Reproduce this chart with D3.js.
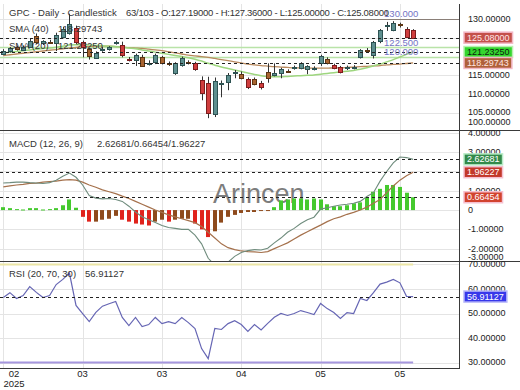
<!DOCTYPE html>
<html><head><meta charset="utf-8">
<script src="https://cdn.jsdelivr.net/npm/d3@7"></script>
<style>
html,body{margin:0;padding:0;background:#fff;}
svg{display:block;}
</style></head><body>
<svg id="c" width="520" height="390"></svg>
<script>
// ---------------- DATA ----------------
const opens  = [120.9,121.5,122.5,121.9,122.6,125.4,123.6,124.0,123.7,125.4,126.4,127.7,123.9,122.0,119.7,121.9,122.1,123.7,123.0,119.4,119.0,120.0,118.2,118.3,119.8,118.3,115.6,117.7,118.5,118.2,113.6,113.0,104.6,112.6,113.1,115.6,115.4,113.9,113.9,113.0,116.0,115.0,115.8,116.2,117.0,116.9,116.6,116.8,118.2,119.3,117.7,117.1,116.9,117.1,119.8,121.8,120.3,124.1,128.1,127.0,128.7,127.4,127.19];
const highs  = [122.0,122.6,122.9,123.0,124.8,126.2,124.4,124.5,126.4,128.0,131.5,128.3,124.3,122.4,121.4,122.6,122.8,124.3,124.0,119.9,120.8,120.5,119.0,120.8,120.2,118.7,118.5,120.0,119.0,118.6,114.7,114.6,114.4,113.6,115.6,116.4,116.0,114.4,114.4,113.5,118.2,118.2,117.0,116.6,117.6,118.5,117.7,117.4,120.5,119.8,118.1,117.5,117.6,117.7,122.0,122.3,124.2,127.4,129.3,129.5,129.1,127.9,127.36];
const lows   = [120.4,121.1,121.6,121.5,122.3,123.3,123.1,123.4,121.5,124.9,125.9,123.3,119.8,119.2,119.4,121.3,121.6,123.2,119.8,118.7,117.5,117.3,117.6,118.0,117.9,117.5,115.1,117.3,117.9,116.2,108.3,103.5,103.8,109.1,111.0,114.2,113.9,111.3,112.3,111.2,113.0,114.7,114.2,115.6,116.5,116.6,115.3,116.3,117.5,117.9,116.6,115.5,116.4,116.6,119.5,121.0,119.5,123.6,126.9,126.8,127.8,125.15,125.00];
const closes = [121.6,122.2,122.0,122.7,124.3,123.7,124.1,123.9,125.8,127.5,128.8,123.9,122.6,120.0,121.1,122.0,122.6,123.9,120.3,119.1,120.3,117.7,118.4,120.3,118.2,118.0,118.2,119.6,118.4,116.6,110.2,105.0,113.4,113.0,115.0,115.9,114.4,111.8,112.6,111.8,114.5,115.5,116.8,116.1,117.3,118.2,117.4,117.0,120.1,118.2,116.9,115.8,117.1,117.3,121.7,121.5,123.8,127.0,128.4,128.9,128.5,125.25,125.08];
const sma20  = [121.0,121.2,121.4,121.6,121.8,122.0,122.2,122.3,122.5,122.8,123.1,123.2,123.2,123.1,123.0,122.9,122.8,122.7,122.5,122.3,122.1,121.8,121.5,121.2,120.9,120.6,120.3,120.0,119.7,119.3,118.8,118.2,117.7,117.2,116.8,116.4,116.0,115.6,115.2,114.9,114.7,114.6,114.6,114.7,114.8,114.9,115.0,115.1,115.3,115.5,115.7,115.9,116.1,116.3,116.6,117.0,117.5,118.0,118.6,119.2,119.9,120.6,121.2325];
const sma40  = [120.3,120.5,120.7,120.9,121.1,121.3,121.5,121.7,121.9,122.1,122.3,122.5,122.6,122.7,122.8,122.8,122.8,122.7,122.6,122.4,122.3,122.2,122.0,121.8,121.6,121.3,121.0,120.7,120.4,120.2,120.0,119.8,119.5,119.2,118.9,118.6,118.3,118.0,117.8,117.6,117.45,117.3,117.2,117.1,117.0,117.0,116.9,116.9,116.9,116.9,117.0,117.0,117.1,117.2,117.3,117.4,117.5,117.6,117.8,117.9,118.0,118.15,118.29743];
const macdLine   = [1.40,1.42,1.45,1.45,1.42,1.40,1.38,1.42,1.55,1.75,1.92,1.70,1.30,0.75,0.62,0.58,0.60,0.55,0.45,0.20,-0.10,-0.35,-0.50,-0.65,-0.80,-0.90,-0.95,-1.00,-1.00,-1.30,-1.75,-2.50,-2.85,-3.00,-2.70,-2.40,-2.20,-2.10,-2.05,-2.07,-1.98,-1.70,-1.45,-1.15,-0.95,-0.70,-0.50,-0.37,0.05,0.12,0.20,0.26,0.30,0.35,0.45,0.70,0.90,1.50,2.00,2.45,2.75,2.72,2.62681];
const signalLine = [1.20,1.25,1.30,1.33,1.38,1.40,1.45,1.48,1.50,1.55,1.58,1.55,1.45,1.30,1.18,1.05,0.95,0.85,0.72,0.60,0.45,0.30,0.15,0.00,-0.12,-0.25,-0.35,-0.45,-0.55,-0.65,-0.85,-1.15,-1.45,-1.75,-1.95,-2.05,-2.12,-2.15,-2.17,-2.20,-2.15,-2.00,-1.85,-1.70,-1.50,-1.30,-1.12,-0.95,-0.78,-0.60,-0.45,-0.35,-0.22,-0.12,0.00,0.15,0.35,0.55,0.90,1.25,1.55,1.78,1.96227];
const histogram  = [0.15,0.10,0.05,0.03,0.10,0.10,0.03,0.05,0.10,0.25,0.55,0.12,-0.35,-0.60,-0.60,-0.50,-0.45,-0.30,-0.50,-0.60,-0.70,-0.75,-0.80,-0.60,-0.50,-0.60,-0.50,-0.45,-0.45,-0.70,-1.00,-1.40,-1.10,-0.65,-0.35,-0.25,-0.15,-0.10,-0.10,-0.05,-0.05,0.15,0.50,0.55,0.60,0.60,0.55,0.60,0.55,0.30,0.20,0.20,0.25,0.35,0.40,0.65,0.95,1.10,1.30,1.30,1.20,0.90,0.66454];
const rsi        = [56.5,58.5,56.1,57.3,61.0,58.6,56.5,57.3,61.8,63.9,66.5,53.3,50.0,46.7,50.5,53.0,54.0,54.9,48.4,45.1,48.4,44.7,45.5,48.4,45.9,46.7,45.9,48.4,46.3,43.9,35.7,31.6,43.9,43.5,45.9,47.1,45.5,42.7,45.5,43.3,46.0,48.5,50.0,49.2,50.0,51.2,50.4,49.6,54.1,52.0,50.4,48.0,50.4,50.0,56.1,55.3,58.5,62.0,62.8,63.9,62.5,57.0,56.91127];

const priceTicks = [100,105,110,115,120,125,130];
const macdTicks  = [-3,-2,-1,0,1,2,3,4];
const rsiTicks   = [30,40,50,60,70];
const xTickIndex = [0,12,24,36,48,60];
const xTickLabels = ["02","03","03","04","05","05"];
const yearLabel = "2025";
const levelValues = [130,122.5,120];
const levelLabels = ["130.000","122.500","120.000"];
const titleMain = "GPC - Daily - Candlestick";
const titleOHLC = "63/103 - O:127.19000 - H:127.36000 - L:125.00000 - C:125.08000";
const sma40Label = "SMA (40)", sma20Label = "SMA (20)";
const macdLabel = "MACD (12, 26, 9)", rsiLabel = "RSI (20, 70, 30)";
const watermark = "Arincen";

// ---------------- LAYOUT ----------------
const FONT = '"Liberation Sans", Arial, Helvetica, sans-serif';
const RIGHT = 460;
const svg = d3.select("#c").attr("font-family", FONT);
const N = closes.length;
const x = d3.scaleBand().domain(d3.range(70)).range([0, 70*6.61]).paddingInner(0.35).paddingOuter(0.175);
const xc = i => x(i) + x.bandwidth()/2;
const P = {top:4, bottom:129}, M = {top:130, bottom:261}, R = {top:261, bottom:368};
const yP = d3.scaleLinear().domain([100.6,134.1]).range([P.bottom,P.top]);
const yM = d3.scaleLinear().domain([-2.64,4.15]).range([M.bottom,M.top]);
const yR = d3.scaleLinear().domain([27.8,71.4]).range([R.bottom,R.top]);
const crisp = v => Math.round(v) + 0.5;

const defs = svg.append("defs");
[["clipP",P],["clipM",M],["clipR",R]].forEach(([id,p]) =>
  defs.append("clipPath").attr("id",id).append("rect")
    .attr("x",0).attr("y",p.top).attr("width",RIGHT).attr("height",p.bottom-p.top));

// grid
const grid = svg.append("g").attr("stroke","#e4e4e4").attr("stroke-width",1);
[[yP,priceTicks,P],[yM,macdTicks,M],[yR,rsiTicks,R]].forEach(([s,t,p]) => {
  t.forEach(v => { const y = s(v); if (y > p.top+1 && y < p.bottom-1)
    grid.append("line").attr("x1",0).attr("x2",RIGHT).attr("y1",crisp(y)).attr("y2",crisp(y)); });
});
xTickIndex.forEach(i => grid.append("line").attr("x1",crisp(xc(i))).attr("x2",crisp(xc(i))).attr("y1",P.top).attr("y2",R.bottom));

// watermark
svg.append("text").attr("x",213).attr("y",203).attr("font-size",27).attr("fill","#7d7d7d").text(watermark);

// ---------------- PRICE PANEL ----------------
const gp = svg.append("g").attr("clip-path","url(#clipP)");
levelValues.forEach((v,k) => {
  gp.append("line").attr("x1", k===0 ? xc(38) : 0).attr("x2",RIGHT)
    .attr("y1",crisp(yP(v))).attr("y2",crisp(yP(v)))
    .attr("stroke", k===0 ? "#8a7f78" : "#b9e3a8").attr("stroke-width", k===0 ? 1 : 1.5);
});
const lineP = d3.line().x((d,i)=>xc(i)).y(d=>yP(d)).curve(d3.curveMonotoneX);
gp.append("path").datum(sma40).attr("d",lineP).attr("fill","none").attr("stroke","#b98a5e").attr("stroke-width",1.3);
gp.append("path").datum(sma20).attr("d",lineP).attr("fill","none").attr("stroke","#9ed67f").attr("stroke-width",1.5);

const tone = i => closes[i] >= opens[i] ? "up" : (i > 0 && closes[i] < lows[i-1] ? "red" : "brown");
const fills = {up:"#5e8f8f", red:"#cf3d3d", brown:"#a86430"};
const strokes = {up:"#2d5252", red:"#7c1c1c", brown:"#5c3412"};
const cg = gp.append("g");
d3.range(N).forEach(i => {
  const cx = crisp(xc(i));
  cg.append("line").attr("x1",cx).attr("x2",cx).attr("y1",yP(highs[i])).attr("y2",yP(lows[i])).attr("stroke","#333").attr("stroke-width",1);
  const y1 = yP(Math.max(opens[i],closes[i])), y2 = yP(Math.min(opens[i],closes[i]));
  cg.append("rect").attr("x",cx-2).attr("width",4).attr("y",Math.round(y1)+0.5).attr("height",Math.max(1,Math.round(y2-y1)))
    .attr("fill",fills[tone(i)]).attr("stroke",strokes[tone(i)]).attr("stroke-width",1);
});

const dashed = (g, y) => g.append("line").attr("x1",0).attr("x2",RIGHT).attr("y1",crisp(y)).attr("y2",crisp(y))
  .attr("stroke","#222").attr("stroke-width",1).attr("stroke-dasharray","3,3");
dashed(svg, yP(closes[N-1]));
dashed(svg, yP(sma20[N-1]));
dashed(svg, yP(sma40[N-1]));

levelValues.forEach((v,k) => {
  svg.append("text").attr("x", xc(57)+4).attr("y", yP(v) - (k===0 ? 2.5 : 1.5)).attr("font-size",9.5).attr("fill","#7474c4").text(levelLabels[k]);
});

svg.append("text").attr("x",9).attr("y",15.5).attr("font-size",9.5).attr("fill","#333").text(titleMain);
svg.append("text").attr("x",126).attr("y",15.5).attr("font-size",9.5).attr("letter-spacing",-0.27).attr("fill","#333").text(titleOHLC);
svg.append("text").attr("x",9).attr("y",32).attr("font-size",9.5).attr("fill","#333").text(sma40Label);
svg.append("text").attr("x",58).attr("y",32).attr("font-size",9.5).attr("fill","#333").text(sma40[N-1].toFixed(5));
svg.append("text").attr("x",9).attr("y",49).attr("font-size",9.5).attr("fill","#333").text(sma20Label);
svg.append("text").attr("x",58).attr("y",49).attr("font-size",9.5).attr("fill","#333").text(sma20[N-1].toFixed(5));

// ---------------- MACD PANEL ----------------
const gm = svg.append("g").attr("clip-path","url(#clipM)");
d3.range(N).forEach(i => {
  const v = histogram[i];
  const col = v >= 0 ? "#45c92e" : (i > 0 && v < histogram[i-1] ? "#e0231c" : "#8e4a1c");
  const y0 = yM(0), y1 = yM(v);
  gm.append("rect").attr("x",Math.round(xc(i))-2).attr("width",4)
    .attr("y",Math.min(y0,y1)).attr("height",Math.max(1,Math.abs(y1-y0))).attr("fill",col);
});
const lineM = d3.line().x((d,i)=>xc(i)).y(d=>yM(d));
gm.append("path").datum(signalLine).attr("d",lineM).attr("fill","none").attr("stroke","#a5714c").attr("stroke-width",1.2);
gm.append("path").datum(macdLine).attr("d",lineM).attr("fill","none").attr("stroke","#6f8c7d").attr("stroke-width",1.1);
dashed(svg, yM(macdLine[N-1]));
dashed(svg, yM(signalLine[N-1]));
dashed(svg, yM(histogram[N-1]));
svg.append("text").attr("x",9).attr("y",147).attr("font-size",9.5).attr("fill","#333").text(macdLabel);
svg.append("text").attr("x",97).attr("y",147).attr("font-size",9.5).attr("fill","#333")
  .text(`${macdLine[N-1].toFixed(5)}/${histogram[N-1].toFixed(5)}/${signalLine[N-1].toFixed(5)}`);

// ---------------- RSI PANEL ----------------
const gr = svg.append("g").attr("clip-path","url(#clipR)");
gr.append("line").attr("x1",0).attr("x2",xc(N-1)).attr("y1",yR(70)).attr("y2",yR(70)).attr("stroke","#ece6a6").attr("stroke-width",2);
gr.append("line").attr("x1",0).attr("x2",xc(N-1)).attr("y1",yR(30)).attr("y2",yR(30)).attr("stroke","#a596de").attr("stroke-width",2);
const lineR = d3.line().x((d,i)=>xc(i)).y(d=>yR(d));
gr.append("path").datum(rsi).attr("d",lineR).attr("fill","none").attr("stroke","#6666b4").attr("stroke-width",1.2);
dashed(svg, yR(rsi[N-1]));
svg.append("text").attr("x",9).attr("y",277).attr("font-size",9.5).attr("fill","#333").text(rsiLabel);
svg.append("text").attr("x",85).attr("y",277).attr("font-size",9.5).attr("fill","#333").text(rsi[N-1].toFixed(5));

// ---------------- BORDERS ----------------
const bord = svg.append("g").attr("stroke","#3a3a3a").attr("stroke-width",1);
bord.append("line").attr("x1",0).attr("x2",520).attr("y1",M.top+0.5).attr("y2",M.top+0.5);
bord.append("line").attr("x1",0).attr("x2",520).attr("y1",R.top+0.5).attr("y2",R.top+0.5);
bord.append("line").attr("x1",0).attr("x2",RIGHT).attr("y1",R.bottom+0.5).attr("y2",R.bottom+0.5);
bord.append("line").attr("x1",RIGHT-0.5).attr("x2",RIGHT-0.5).attr("y1",P.top).attr("y2",R.bottom+1);

// ---------------- RIGHT AXES ----------------
function rightAxis(scale, ticks, fmt, p, padTop, padBot) {
  const g = svg.append("g").attr("transform",`translate(${RIGHT},0)`)
    .call(d3.axisRight(scale).tickValues(ticks).tickFormat(fmt).tickSize(0).tickPadding(8));
  g.select(".domain").remove();
  g.selectAll(".tick").attr("transform", d => {
    const y = Math.max(p.top+padTop, Math.min(p.bottom-padBot, scale(d)));
    return `translate(0,${y})`;
  });
  g.selectAll("text").attr("font-size",9).attr("font-family",FONT).attr("fill","#222");
}
rightAxis(yP, priceTicks, d => d.toFixed(5), P, 3, 7);
rightAxis(yM, macdTicks, d => d === 0 ? "0" : d.toFixed(5), M, 3, 3.5);
rightAxis(yR, rsiTicks, d => d.toFixed(5), R, 3, 4);

function badge(y, text, fill, txt, halo) {
  const g = svg.append("g");
  const t = g.append("text").attr("x",467).attr("y",y).attr("dy","0.34em").attr("font-size",9).attr("fill",txt).text(text);
  const w = t.node().getComputedTextLength();
  g.insert("rect","text").attr("x",464).attr("y",y-5.5).attr("width",w+6).attr("height",11)
    .attr("fill",fill).attr("stroke",halo).attr("stroke-width",1.5);
}
badge(yP(closes[N-1]), closes[N-1].toFixed(5), "#c4504a", "#ffe6e6", "#f2b8c6");
badge(yP(sma20[N-1]), sma20[N-1].toFixed(5), "#33d62e", "#102010", "#b8f0b0");
badge(yP(sma40[N-1]), sma40[N-1].toFixed(5), "#b0603a", "#ffe6e0", "#f2b8c6");
badge(yM(macdLine[N-1]), macdLine[N-1].toFixed(5), "#338a4a", "#ffffff", "#b8ecc8");
badge(yM(signalLine[N-1]), signalLine[N-1].toFixed(5), "#c3382a", "#ffffff", "#f5c0d0");
badge(yM(histogram[N-1]), histogram[N-1].toFixed(5), "#d2432f", "#ffffff", "#f5c0d0");
badge(yR(rsi[N-1]), rsi[N-1].toFixed(5), "#3737ea", "#ffffff", "#b8b8f8");

// ---------------- X AXIS ----------------
xTickIndex.forEach((i,k) => {
  const px = Math.max(14, xc(i));
  svg.append("text").attr("x",px).attr("y",377).attr("text-anchor","middle").attr("font-size",9.5).attr("fill","#222").text(xTickLabels[k]);
  if (k === 0) svg.append("text").attr("x",px).attr("y",387).attr("text-anchor","middle").attr("font-size",9.5).attr("fill","#222").text(yearLabel);
});
</script>
</body></html>
